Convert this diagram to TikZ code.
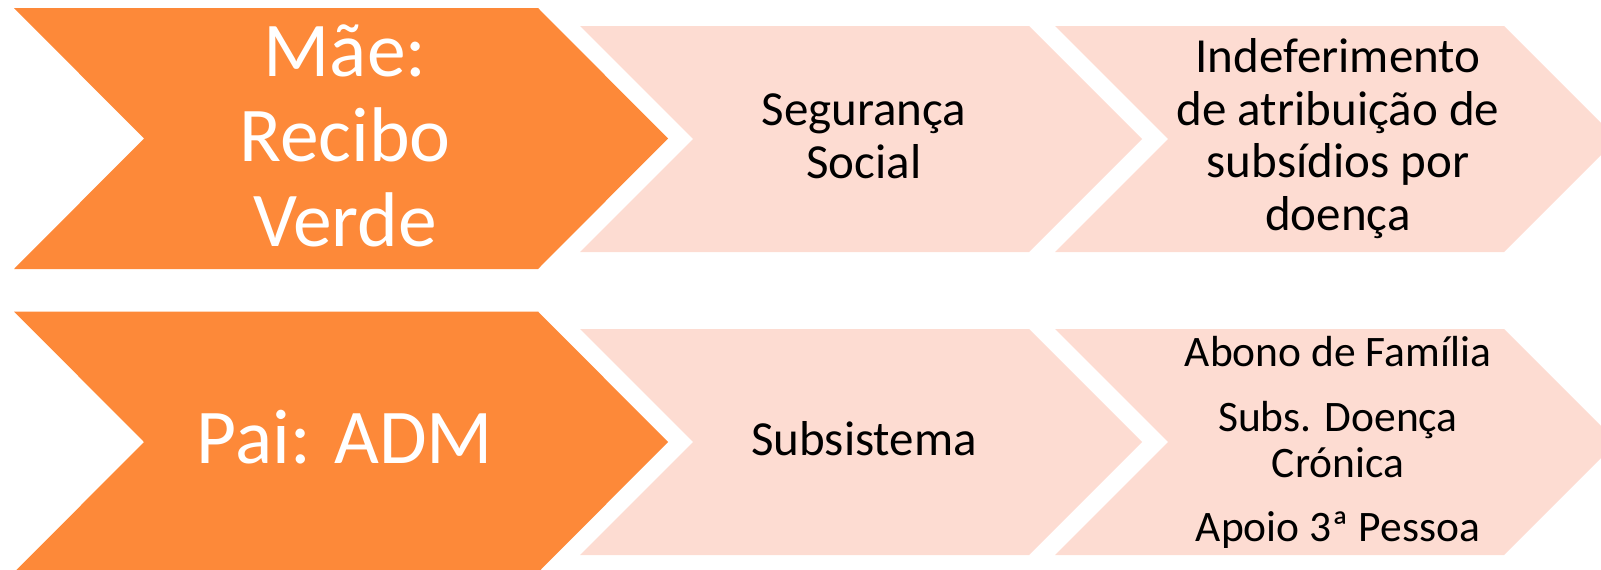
\documentclass[tikz,border=0pt]{standalone}
\usepackage{fontspec}
\setmainfont{Carlito}
\definecolor{chevorange}{HTML}{FD8939}
\definecolor{chevpink}{HTML}{FDDCD2}
\tikzset{
  orangechev/.style={fill=chevorange, draw=none},
  pinkchev/.style={fill=chevpink, draw=none},
  bigtext/.style={text=white, font=\fontsize{77.5}{85}\selectfont, align=center, inner sep=0pt, anchor=base},
  midtext/.style={text=black, font=\fontsize{49}{52.5}\selectfont, align=center, inner sep=0pt, anchor=base},
  listtext/.style={text=black, font=\fontsize{43.5}{46.5}\selectfont, align=center, inner sep=0pt, anchor=base}
}
\begin{document}
\begin{tikzpicture}[x=1pt,y=-1pt]
\useasboundingbox (0,0) rectangle (1601,570);
\clip (0,0) rectangle (1601,570);
% top row
\path[orangechev] (14,8) -- (538,8) -- (668,138.5) -- (538,269) -- (14,269) -- (144,138.5) -- cycle;
\path[pinkchev] (580,26) -- (1029,26) -- (1142,139) -- (1029,252) -- (580,252) -- (693,139) -- cycle;
\path[pinkchev] (1055,26) -- (1504,26) -- (1617,139) -- (1504,252) -- (1055,252) -- (1168,139) -- cycle;
% bottom row
\path[orangechev] (14,311.5) -- (538,311.5) -- (668,442) -- (538,572.5) -- (14,572.5) -- (144,442) -- cycle;
\path[pinkchev] (580,329) -- (1029,329) -- (1142,442) -- (1029,555) -- (580,555) -- (693,442) -- cycle;
\path[pinkchev] (1055,329) -- (1504,329) -- (1617,442) -- (1504,555) -- (1055,555) -- (1168,442) -- cycle;
% texts (anchor base = baseline of the last line)
\node[bigtext] (mae) at (345,246) {Mãe:\\Recibo\\Verde};
\node[midtext] (seg) at (864,178) {Segurança\\Social};
\node[midtext] (indef) at (1338,230) {Indeferimento\\de atribuição de\\subsídios por\\doença};
\node[bigtext] (pai) at (345,463) {Pai: ADM};
\node[midtext] (subs) at (864,455) {Subsistema};
\node[listtext] (lista) at (1338,541) {Abono de Família\\[18pt]Subs. Doença\\Crónica\\[17pt]Apoio 3ª Pessoa};
\end{tikzpicture}
\end{document}
